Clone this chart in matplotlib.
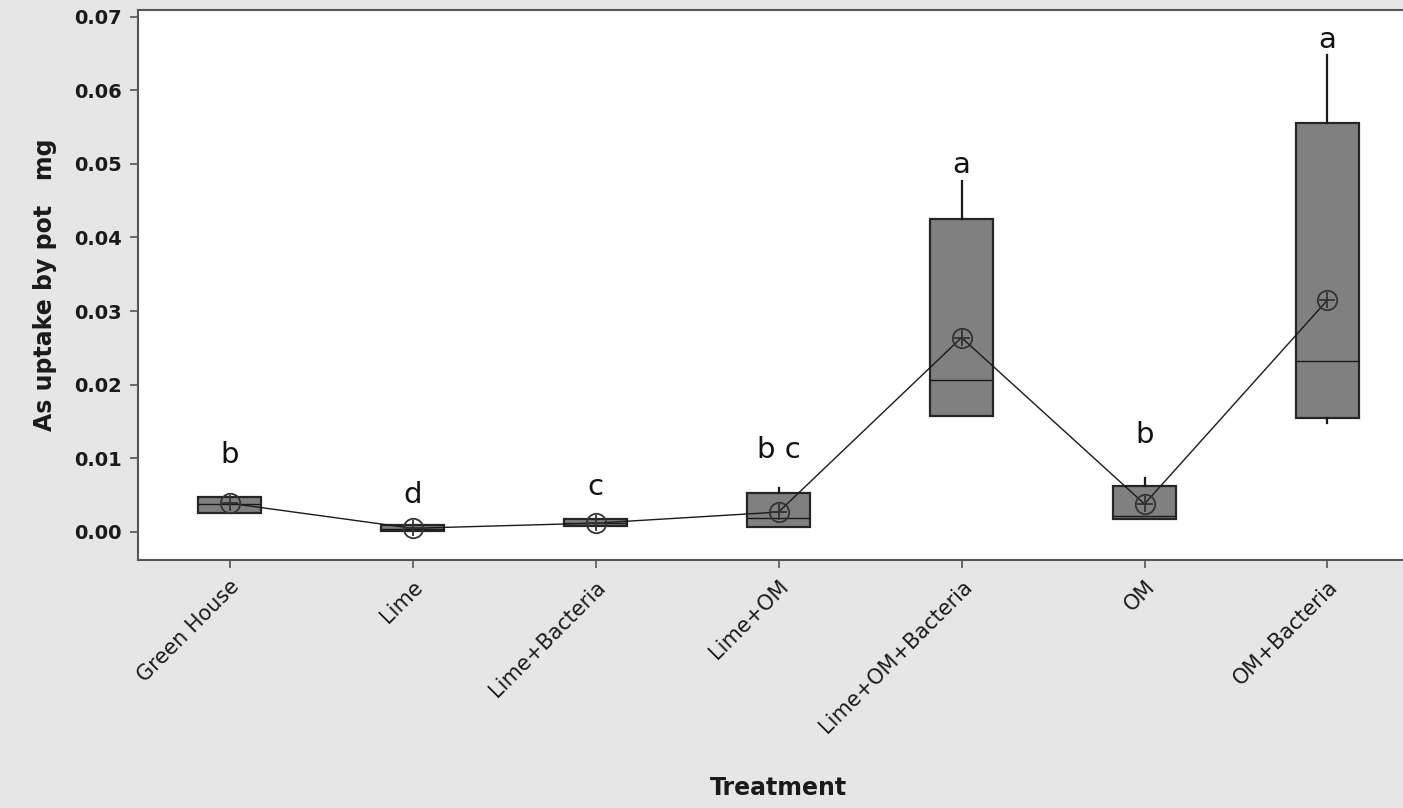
import matplotlib.pyplot as plt
import numpy as np

# Treatment groups and box statistics (mg per pot)
treatments = ['Green House', 'Lime', 'Lime+Bacteria', 'Lime+OM',
              'Lime+OM+Bacteria', 'OM', 'OM+Bacteria']
q1 = [0.0026, 0.0001, 0.0008, 0.0007, 0.0158, 0.0017, 0.0155]
median = [0.0038, 0.0004, 0.0012, 0.0019, 0.0207, 0.0022, 0.0232]
q3 = [0.0047, 0.0009, 0.0017, 0.0053, 0.0425, 0.0062, 0.0556]
whis_lo = [0.0026, 0.0001, 0.0008, 0.0007, 0.0158, 0.0017, 0.0148]
whis_hi = [0.0047, 0.0009, 0.0017, 0.0060, 0.0476, 0.0073, 0.0648]
means = [0.0039, 0.0005, 0.0012, 0.0027, 0.0264, 0.0038, 0.0315]

# Grouping letters and where they sit
letters = ['b', 'd', 'c', 'b c', 'a', 'b', 'a']
letter_y = [0.0105, 0.0050, 0.0061, 0.0111, 0.0499, 0.0132, 0.0668]

fig = plt.figure(figsize=(14.03, 8.08), dpi=100)
fig.patch.set_facecolor('#e6e6e6')
ax = fig.add_axes([0.0984, 0.307, 0.913, 0.6807])
ax.set_facecolor('white')

pos = np.arange(len(treatments))
stats = []
for i in range(len(treatments)):
    stats.append(dict(med=median[i], q1=q1[i], q3=q3[i],
                      whislo=whis_lo[i], whishi=whis_hi[i], fliers=[]))

ax.bxp(stats, positions=pos, widths=0.34, patch_artist=True,
       showcaps=False, showfliers=False,
       boxprops=dict(facecolor='#808080', edgecolor='#262626', linewidth=1.6),
       medianprops=dict(color='#1a1a1a', linewidth=1.0),
       whiskerprops=dict(color='#1a1a1a', linewidth=1.6))

# mean connect line with circled-plus symbols
ax.plot(pos, means, color='#1a1a1a', linewidth=1.0, zorder=4)
ax.plot(pos, means, linestyle='none', marker='o', markersize=14,
        markerfacecolor='none', markeredgecolor='#333333',
        markeredgewidth=1.3, zorder=5)
ax.plot(pos, means, linestyle='none', marker='+', markersize=11,
        markeredgecolor='#333333', markeredgewidth=1.3, zorder=5)

for x, y, s in zip(pos, letter_y, letters):
    ax.text(x, y, s, ha='center', va='center', fontsize=21, color='#111111')

ax.set_xlim(-0.5, 6.5)
ax.set_ylim(-0.0038, 0.0709)
ax.set_yticks(np.arange(0, 0.071, 0.01))
ax.set_yticklabels([f'{v:.2f}' for v in np.arange(0, 0.071, 0.01)],
                   fontsize=14, fontweight='bold', color='#1a1a1a')
ax.set_xticks(pos)
ax.set_xticklabels(treatments, rotation=45, ha='right',
                   rotation_mode='anchor', fontsize=15, color='#1a1a1a')

for side in ['left', 'bottom', 'top', 'right']:
    ax.spines[side].set_color('#555555')
    ax.spines[side].set_linewidth(1.5)
ax.tick_params(axis='both', direction='out', length=6, color='#555555', width=1.2)
ax.tick_params(axis='y', pad=6)
ax.tick_params(axis='x', pad=6)

ax.set_ylabel('As uptake by pot   mg', fontsize=17, fontweight='bold',
              color='#1a1a1a', labelpad=12)
ax.set_xlabel('Treatment', fontsize=17, fontweight='bold', color='#1a1a1a')
ax.xaxis.set_label_coords(0.5, -0.393)

fig.savefig('out.png', dpi=100, facecolor=fig.get_facecolor())
